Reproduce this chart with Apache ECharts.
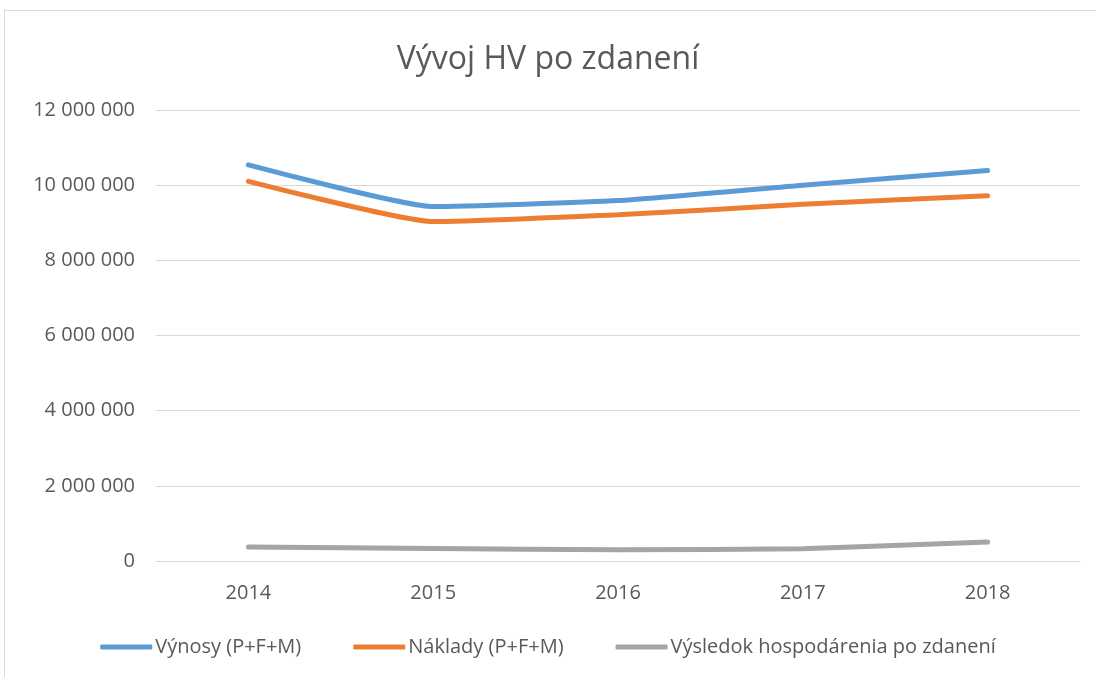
<!DOCTYPE html>
<html>
<head>
<meta charset="utf-8">
<script src="https://cdn.jsdelivr.net/npm/echarts@6/dist/echarts.min.js"></script>
<style>
  html, body { margin: 0; padding: 0; background: #fff; }
  #frame {
    position: absolute; left: 4px; top: 10px; right: -2px; bottom: -2px;
    border-top: 1px solid #d9d9d9; border-left: 1px solid #d9d9d9;
  }
  #chart { position: absolute; left: 0; top: 0; width: 1096px; height: 677px; }
</style>
</head>
<body>
<div id="frame"></div>
<div id="chart"></div>
<script>
  // data
  var years = ["2014", "2015", "2016", "2017", "2018"];
  var vynosy = [10540000, 9430000, 9590000, 10000000, 10390000];
  var naklady = [10100000, 9030000, 9210000, 9490000, 9720000];
  var vysledok = [372000, 335000, 300000, 327000, 505000];
  var seriesNames = ["Výnosy (P+F+M)", "Náklady (P+F+M)", "Výsledok hospodárenia po zdanení"];

  var font = "Open Sans";
  var chart = echarts.init(document.getElementById("chart"));

  function fmt(v) {
    return String(v).replace(/\B(?=(\d{3})+(?!\d))/g, " ");
  }

  function line(name, data, color) {
    return {
      name: name,
      type: "line",
      data: data,
      smooth: 0.15,
      symbol: "none",
      lineStyle: { width: 5, color: color, cap: "round" },
      itemStyle: { color: color }
    };
  }

  var option = {
    animation: false,
    title: {
      text: "Vývoj HV po zdanení",
      left: "center",
      top: 39,
      textStyle: { fontFamily: font, fontSize: 32, fontWeight: "normal", color: "#595959" }
    },
    legend: {
      bottom: 15,
      left: "center",
      itemWidth: 52,
      itemHeight: 5,
      itemGap: 52,
      icon: "roundRect",
      textStyle: { fontFamily: font, fontSize: 20, color: "#595959", padding: [0, 0, 0, -2] },
      data: seriesNames
    },
    grid: { left: 156, right: 16, top: 110, bottom: 116 },
    xAxis: {
      type: "category",
      data: years,
      boundaryGap: true,
      axisLine: { lineStyle: { color: "#d9d9d9" } },
      axisTick: { show: false },
      axisLabel: { fontFamily: font, fontSize: 20, color: "#595959", margin: 22 }
    },
    yAxis: {
      type: "value",
      min: 0,
      max: 12000000,
      interval: 2000000,
      axisLine: { show: false },
      axisTick: { show: false },
      splitLine: { lineStyle: { color: "#d9d9d9", width: 1 } },
      axisLabel: {
        fontFamily: font, fontSize: 20, color: "#595959", margin: 21,
        formatter: fmt
      }
    },
    series: [
      line(seriesNames[0], vynosy, "#5B9BD5"),
      line(seriesNames[1], naklady, "#ED7D31"),
      line(seriesNames[2], vysledok, "#A5A5A5")
    ]
  };
  chart.setOption(option);
</script>
</body>
</html>
